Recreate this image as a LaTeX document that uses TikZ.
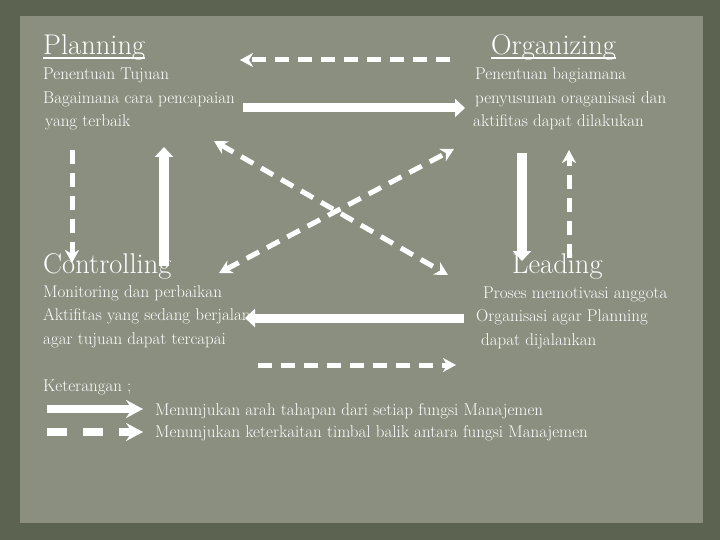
\documentclass[tikz,border=0pt]{standalone}
\usetikzlibrary{arrows.meta}
\definecolor{frame}{RGB}{92,99,80}
\definecolor{paper}{RGB}{138,143,128}

\tikzset{
  every node/.style={text=white, inner sep=0pt},
  title/.style={font=\fontsize{28.5}{32}\selectfont, anchor=base west},
  body/.style={font=\fontsize{17}{23.5}\selectfont, anchor=base west, align=left},
  flow/.style={draw=white, line width=10pt, -{Triangle[length=10pt,width=18pt]}},
  link/.style={draw=white, line width=5pt, dash pattern=on 14pt off 9pt,
    -{Stealth[length=13pt,width=14pt,inset=4pt]}},
  dlink/.style={link, {Stealth[length=13pt,width=14pt,inset=4pt]}-{Stealth[length=13pt,width=14pt,inset=4pt]}},
  legflow/.style={draw=white, line width=8pt, -{Stealth[length=17pt,width=18pt,inset=6pt]}},
  legdash/.style={legflow, dash pattern=on 20pt off 16pt},
}

\begin{document}
\begin{tikzpicture}[x=1pt, y=-1pt]
\useasboundingbox (0,0) rectangle (720,540);
\fill[frame] (0,0) rectangle (720,540);
\fill[paper] (20,16) rectangle (703,523);

\node[title] (plan) at (43,55)  {Planning};
\node[title] (org)  at (491,55) {Organizing};
\node[title] (ctrl) at (43,273) {Controlling};
\node[title] (lead) at (512,273) {Leading};
\draw[white, line width=1.5pt] ([yshift=-3pt]plan.base west) -- ([yshift=-3pt]plan.base east);
\draw[white, line width=1.5pt] ([yshift=-3pt]org.base west) -- ([yshift=-3pt]org.base east);

% last line of each block sits on the given baseline
\node[body] (plantxt) at (43,127)  {Penentuan Tujuan\\ Bagaimana cara pencapaian\\ \hspace{2pt}yang terbaik};
\node[body] (orgtxt)  at (473,127) {\hspace{2pt}Penentuan bagiamana\\ \hspace{2pt}penyusunan oraganisasi dan\\ aktifitas dapat dilakukan};
\node[body] (ctrltxt) at (43,344) {Monitoring dan perbaikan\\ Aktifitas yang sedang berjalan\\ agar tujuan dapat tercapai};
\node[body] (leadtxt) at (476,345) {\hspace{7pt}Proses memotivasi anggota\\ Organisasi agar Planning\\ \hspace{5pt}dapat dijalankan};

\coordinate (po1) at (450,60);  \coordinate (po2) at (240,60);
\coordinate (po3) at (243,108); \coordinate (po4) at (465,108);
\coordinate (pc1) at (72,150);  \coordinate (pc2) at (72,263);
\coordinate (cp1) at (164,266); \coordinate (cp2) at (164,147);
\coordinate (ol1) at (522,153); \coordinate (ol2) at (522,261);
\coordinate (lo1) at (569,258); \coordinate (lo2) at (569,150);
\coordinate (lc1) at (464,318); \coordinate (lc2) at (245,318);
\coordinate (cl1) at (258,365); \coordinate (cl2) at (456,365);
\coordinate (d1) at (214,141);  \coordinate (d2) at (448,275);
\coordinate (d3) at (219,273);  \coordinate (d4) at (454,149);

\draw[link] (po1) -- (po2);
\draw[flow, line width=9pt] (po3) -- (po4);
\draw[link] (pc1) -- (pc2);
\draw[flow] (cp1) -- (cp2);
\draw[flow] (ol1) -- (ol2);
\draw[link] (lo1) -- (lo2);
\draw[flow, line width=9pt] (lc1) -- (lc2);
\draw[link] (cl1) -- (cl2);
\draw[dlink] (d1) -- (d2);
\draw[dlink] (d3) -- (d4);

\node[body] (ket) at (43,391) {Keterangan ;};
\coordinate (ls1) at (47,409); \coordinate (ls2) at (143,409);
\coordinate (ld1) at (47,432); \coordinate (ld2) at (143,432);
\draw[legflow] (ls1) -- (ls2);
\draw[legdash] (ld1) -- (ld2);
\node[body] (legsolid) at (155,415) {Menunjukan arah tahapan dari setiap fungsi Manajemen};
\node[body] (legdash)  at (155,437) {Menunjukan keterkaitan timbal balik antara fungsi Manajemen};
\end{tikzpicture}
\end{document}
